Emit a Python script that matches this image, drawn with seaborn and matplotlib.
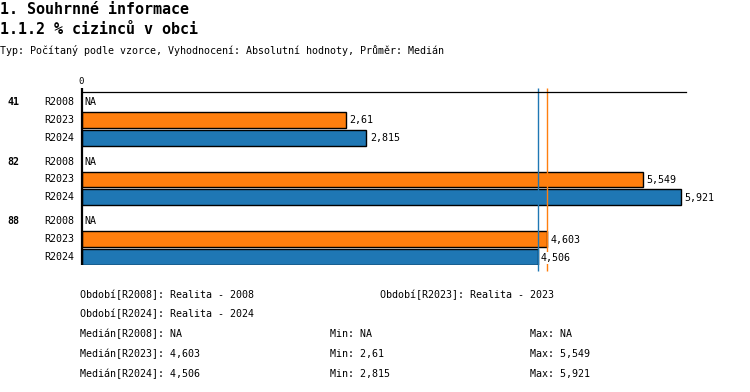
import numpy as np
import pandas as pd
import matplotlib
matplotlib.use("Agg")
import matplotlib.pyplot as plt
import seaborn as sns

# ---- data ----
groups = ["41", "82", "88"]
periods = ["R2008", "R2023", "R2024"]
v_r2008 = [np.nan, np.nan, np.nan]
v_r2023 = [2.61, 5.549, 4.603]
v_r2024 = [2.815, 5.921, 4.506]
median_r2023 = 4.603
median_r2024 = 4.506
period_names = ["Realita - 2008", "Realita - 2023", "Realita - 2024"]
stats_median = ["NA", "4,603", "4,506"]
stats_min = ["NA", "2,61", "2,815"]
stats_max = ["NA", "5,549", "5,921"]

colors = {"R2008": "#2ca02c", "R2023": "#ff7f0e", "R2024": "#1f77b4"}

sns.set_theme(style="white")
plt.rcParams["font.family"] = ["DejaVu Sans Mono", "DejaVu Sans"]
plt.rcParams["text.color"] = "black"

W, H = 750, 392
fig = plt.figure(figsize=(W / 100, H / 100), dpi=100)

def fx(x):
    return x / W

def fy(y):
    return 1 - y / H

# layout: row pitch 18 px, group pitch 60 px
row_px = 18.0
group_step = 60.0 / row_px
rows = []
for gi, g in enumerate(groups):
    for pi, p in enumerate(periods):
        val = [v_r2008, v_r2023, v_r2024][pi][gi]
        rows.append({"group": g, "period": p, "value": val,
                     "pos": gi * group_step + pi})
df = pd.DataFrame(rows)

ax_left, ax_right = 81.5, 686.0
ax_top, ax_bot = 92.0, 265.0
ax = fig.add_axes([fx(ax_left), fy(ax_bot), fx(ax_right) - fx(ax_left),
                   (ax_bot - ax_top) / H])

sns.barplot(data=df, x="value", y="pos", hue="period", orient="h",
            native_scale=True, dodge=False, palette=colors, width=0.89,
            saturation=1, edgecolor="black", linewidth=1.0, legend=False, ax=ax)

xmax = 5.973
ax.set_xlim(0, xmax)
y_top = -9.7 / row_px
y_bot = df["pos"].max() + 7.7 / row_px
ax.set_ylim(y_bot, y_top)

for s in ["right", "bottom"]:
    ax.spines[s].set_visible(False)
ax.spines["top"].set_color("black")
ax.spines["top"].set_linewidth(0.9)
ax.spines["left"].set_visible(False)
ax.set_xticks([])
ax.set_yticks([])
ax.set_xlabel("")
ax.set_ylabel("")

# left axis line (slightly above top)
ext = 4.5 / row_px
ax.vlines(0, y_top - ext, y_bot, color="black", linewidth=1.6, clip_on=False, zorder=5)
# medians
line_bot = y_bot + 6.5 / row_px
ax.vlines(median_r2024, y_top - ext, line_bot, color=colors["R2024"], linewidth=1.0,
          clip_on=False, zorder=1)
ax.vlines(median_r2023, y_top - ext, line_bot, color=colors["R2023"], linewidth=1.0,
          clip_on=False, zorder=1)

ax.text(0, y_top - 11 / row_px, "0", ha="center", va="center", fontsize=6.5)

fs = 7.2
for _, r in df.iterrows():
    if np.isnan(r["value"]):
        ax.annotate("NA", (0, r["pos"]), xytext=(2.2, 0), textcoords="offset points",
                    ha="left", va="center", fontsize=fs)
    else:
        lbl = f"{r['value']:g}".replace(".", ",")
        ax.annotate(lbl, (r["value"], r["pos"]), xytext=(2.5, -0.5),
                    textcoords="offset points", ha="left", va="center", fontsize=fs,
                    zorder=6, bbox=dict(facecolor="white", edgecolor="none", pad=0.6))
    # row label
    ax.annotate(r["period"], (0, r["pos"]), xytext=(-5.5, 0), textcoords="offset points",
                ha="right", va="center", fontsize=fs, annotation_clip=False)
    if r["period"] == "R2008":
        ax.annotate(r["group"], (0, r["pos"]), xytext=(-53.5, 0), textcoords="offset points",
                    ha="left", va="center", fontsize=fs, fontweight="bold",
                    annotation_clip=False)

# titles
fig.text(fx(0), fy(9), "1. Souhrnné informace", fontsize=10.8, fontweight="bold",
         ha="left", va="center")
fig.text(fx(0), fy(30), "1.1.2 % cizinců v obci", fontsize=10.8, fontweight="bold",
         ha="left", va="center")
fig.text(fx(0), fy(50), "Typ: Počítaný podle vzorce, Vyhodnocení: Absolutní hodnoty, Průměr: Medián",
         fontsize=fs, ha="left", va="center")

# footer
fig.text(fx(80), fy(295), f"Období[{periods[0]}]: {period_names[0]}", fontsize=fs, va="center")
fig.text(fx(380), fy(295), f"Období[{periods[1]}]: {period_names[1]}", fontsize=fs, va="center")
fig.text(fx(80), fy(314), f"Období[{periods[2]}]: {period_names[2]}", fontsize=fs, va="center")
for i, p in enumerate(periods):
    yy = 334 + 20 * i
    fig.text(fx(80), fy(yy), f"Medián[{p}]: {stats_median[i]}", fontsize=fs, va="center")
    fig.text(fx(330), fy(yy), f"Min: {stats_min[i]}", fontsize=fs, va="center")
    fig.text(fx(530), fy(yy), f"Max: {stats_max[i]}", fontsize=fs, va="center")

fig.savefig("out.png", dpi=100, facecolor="white")
